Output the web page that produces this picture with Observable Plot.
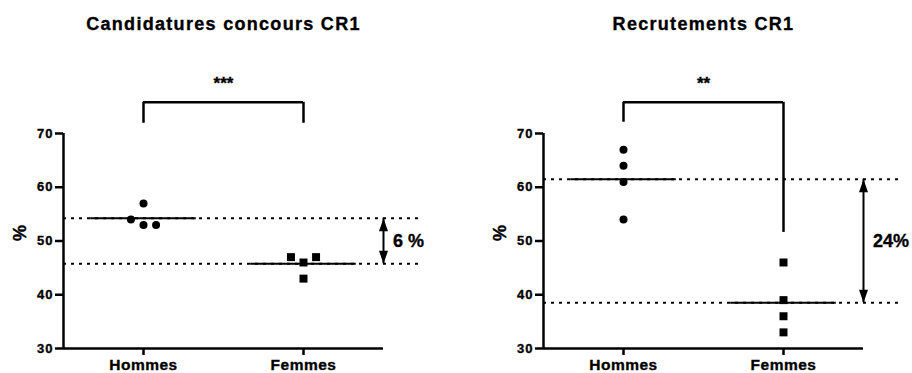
<!DOCTYPE html>
<html><head><meta charset="utf-8">
<script src="https://cdn.jsdelivr.net/npm/d3@7"></script>
<script src="https://cdn.jsdelivr.net/npm/@observablehq/plot@0.6"></script>
<style>
body{margin:0;background:#fff;}
#row{display:flex;width:912px;height:373px;}
#row svg text{stroke:black;stroke-width:0.35px;}
</style></head><body><div id="row"></div>
<script>
// ---- data ----
const categories = ["Hommes", "Femmes"];
const panelTitles = ["Candidatures concours CR1", "Recrutements CR1"];
const candHommes = [54, 57, 53, 53];
const candFemmes = [47, 46, 47, 43];
const recrHommes = [67, 64, 61, 54];
const recrFemmes = [46, 39, 36, 33];
const sigLabels = ["***", "**"];
const diffLabels = ["6 %", "24%"];
const yTicks = [30, 40, 50, 60, 70];
const bracketTop = [75.8, 75.8];
const bracketLeftEnd = [71.9, 72.1];
const bracketRightEnd = [71.9, 51.6];

// ---- helpers ----
function swarm(values) {
  const idx = values.map((v, i) => i).sort((a, b) => values[a] - values[b]);
  const groups = []; let cur = [idx[0]];
  for (let k = 1; k < idx.length; k++) {
    if (values[idx[k]] - values[idx[k - 1]] <= 1.5) cur.push(idx[k]);
    else { groups.push(cur); cur = [idx[k]]; }
  }
  groups.push(cur);
  const off = new Array(values.length).fill(0);
  for (const g of groups) { g.sort((a, b) => a - b); g.forEach((i, j) => off[i] = j - (g.length - 1) / 2); }
  return off;
}
const arrowUp = {draw(ctx) { ctx.moveTo(0, 0); ctx.lineTo(4.5, 13); ctx.lineTo(-4.5, 13); ctx.closePath(); }};
const arrowDown = {draw(ctx) { ctx.moveTo(0, 0); ctx.lineTo(4.5, -13); ctx.lineTo(-4.5, -13); ctx.closePath(); }};

function panel(p, hommes, femmes, marginLeft) {
  const W = 456, H = 373, mb = 25, pxPerUnit = 5.375, pxPerX = 80, xmax = 4.6;
  const pts = [];
  [hommes, femmes].forEach((vals, ci) => {
    const off = swarm(vals);
    vals.forEach((v, j) => pts.push({cat: categories[ci], x: ci * 2 + 1 + off[j] * 0.157, v}));
  });
  const means = [d3.mean(hommes), d3.mean(femmes)];
  const meanRows = means.map((m, ci) => ({x1: ci * 2 + 1 - 0.66, x2: ci * 2 + 1 + 0.66, m}));
  const hi = d3.max(means), lo = d3.min(means);
  const svg = Plot.plot({
    width: W, height: H,
    marginLeft, marginRight: W - marginLeft - xmax * pxPerX, marginTop: 0, marginBottom: mb,
    style: {fontFamily: "'Liberation Sans', Arial, sans-serif", color: "black", background: "white"},
    x: {type: "linear", domain: [0, xmax], label: null},
    y: {domain: [30, 30 + (H - mb) / pxPerUnit], label: null},
    marks: [
      Plot.ruleX([0], {y1: 30, y2: 70, strokeWidth: 2.5, stroke: "black"}),
      Plot.ruleY([30], {x1: 0, x2: 4, strokeWidth: 2.5, stroke: "black"}),
      Plot.axisY({ticks: yTicks, tickSize: 8, tickPadding: 2, strokeWidth: 2.5, fontSize: 13, fontWeight: "bold", label: null}),
      Plot.axisX({ticks: [1, 3], tickFormat: d => categories[(d - 1) / 2], tickSize: 7, tickPadding: 3, strokeWidth: 2.5, fontSize: 15.5, fontWeight: "bold", label: null}),
      Plot.ruleY(meanRows, {x1: "x1", x2: "x2", y: "m", strokeWidth: 2, stroke: "black"}),
      Plot.ruleY(means, {x1: 0, x2: 4.47, strokeDasharray: "3,5", strokeWidth: 2, stroke: "black"}),
      Plot.dot(pts.filter(d => d.cat === categories[0]), {x: "x", y: "v", r: 4, fill: "black", symbol: "circle"}),
      Plot.dot(pts.filter(d => d.cat === categories[1]), {x: "x", y: "v", r: 4.5, fill: "black", symbol: "square"}),
      Plot.ruleX([4], {y1: hi, y2: lo, strokeWidth: 2, stroke: "black"}),
      Plot.dot([hi], {x: () => 4, y: d => d, symbol: arrowUp, fill: "black", r: 5}),
      Plot.dot([lo], {x: () => 4, y: d => d, symbol: arrowDown, fill: "black", r: 5}),
      Plot.text([diffLabels[p]], {x: () => 4.12, y: () => (hi + lo) / 2, text: d => d, textAnchor: "start", fontSize: 18, fontWeight: "bold"}),
      Plot.ruleY([bracketTop[p]], {x1: 1, x2: 3, strokeWidth: 2.5, stroke: "black"}),
      Plot.ruleX([1], {y1: bracketTop[p], y2: bracketLeftEnd[p], strokeWidth: 2.5, stroke: "black"}),
      Plot.ruleX([3], {y1: bracketTop[p], y2: bracketRightEnd[p], strokeWidth: 2.5, stroke: "black"}),
      Plot.text([sigLabels[p]], {x: () => 2, y: () => bracketTop[p], text: d => d, dy: -19, fontSize: 17, fontWeight: "bold"}),
      Plot.text([panelTitles[p]], {x: () => 2, frameAnchor: "top", text: d => d, dy: 17, fontSize: 18, fontWeight: "bold"}),
      Plot.text(["%"], {frameAnchor: "left", y: () => 50, text: d => d, dx: -43, rotate: -90, fontSize: 18, fontWeight: "bold"})
    ]
  });
  // letter spacing to match the wide, heavy reference typography
  svg.querySelectorAll("text").forEach(t => {
    const s = t.textContent;
    if (s === panelTitles[p]) t.style.letterSpacing = "1.3px";
    else if (categories.includes(s)) t.style.letterSpacing = "0.5px";
    else if (/^\d+$/.test(s)) t.style.letterSpacing = "1px";
  });
  return svg;
}

const row = document.getElementById("row");
row.appendChild(panel(0, candHommes, candFemmes, 63));
row.appendChild(panel(1, recrHommes, recrFemmes, 87));
</script></body></html>
